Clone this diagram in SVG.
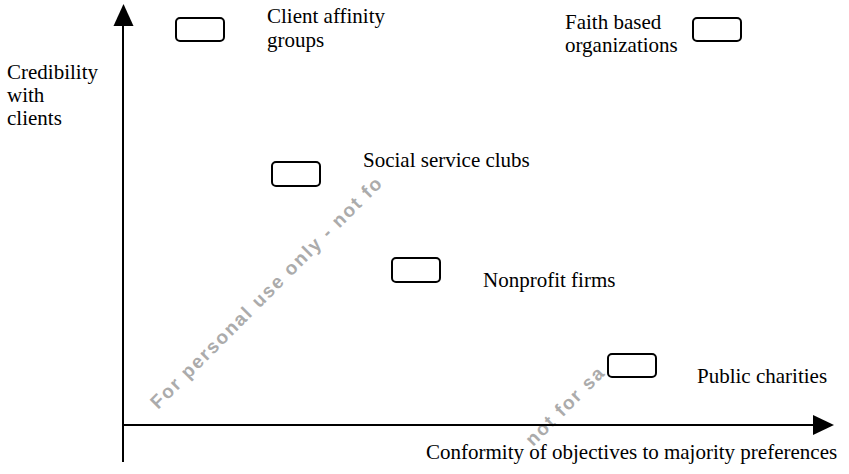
<svg xmlns="http://www.w3.org/2000/svg" width="849" height="474" viewBox="0 0 849 474">
  <style>
    .box { fill: #fff; stroke: #000; stroke-width: 2; }
    .axis { stroke: #000; stroke-width: 2; fill: none; }
    .head { fill: #000; stroke: none; }
  </style>
  <rect width="849" height="474" fill="#fff"/>

  <g id="watermark" font-family="Liberation Sans, Arial, sans-serif" font-size="19" font-weight="bold" fill="#ababab">
    <text transform="translate(158,410) rotate(-45)" textLength="318" lengthAdjust="spacing">For personal use only - not fo</text>
    <text transform="translate(533,447) rotate(-45)" textLength="102" lengthAdjust="spacing">not for sa</text>
  </g>

  <g id="connectors">
    <line class="axis" x1="123" y1="462" x2="123" y2="24"/>
    <polygon class="head" points="123.5,4 113.5,26 133.5,26"/>
    <line class="axis" x1="122" y1="425" x2="815" y2="425"/>
    <polygon class="head" points="834,425 813,415 813,435"/>
  </g>

  <g font-family="Liberation Serif, Times New Roman, Times, serif" font-size="21" fill="#000">
    <g id="axis-y-label">
      <text x="7" y="79">Credibility</text>
      <text x="7" y="102">with</text>
      <text x="7" y="125">clients</text>
    </g>
    <g id="axis-x-label">
      <text x="426" y="459">Conformity of objectives to majority preferences</text>
    </g>

    <g id="client-affinity-groups">
      <rect class="box" x="176" y="18" width="48" height="23" rx="4"/>
      <text x="267" y="23">Client affinity</text>
      <text x="267" y="47">groups</text>
    </g>

    <g id="faith-based-organizations">
      <rect class="box" x="693" y="18" width="48" height="23" rx="4"/>
      <text x="565" y="29">Faith based</text>
      <text x="565" y="52">organizations</text>
    </g>

    <g id="social-service-clubs">
      <rect class="box" x="272" y="162" width="48" height="24" rx="4"/>
      <text x="363" y="167">Social service clubs</text>
    </g>

    <g id="nonprofit-firms">
      <rect class="box" x="392" y="258" width="48" height="24" rx="4"/>
      <text x="483" y="287">Nonprofit firms</text>
    </g>

    <g id="public-charities">
      <rect class="box" x="608" y="354" width="48" height="23" rx="4"/>
      <text x="697" y="383">Public charities</text>
    </g>
  </g>
</svg>
